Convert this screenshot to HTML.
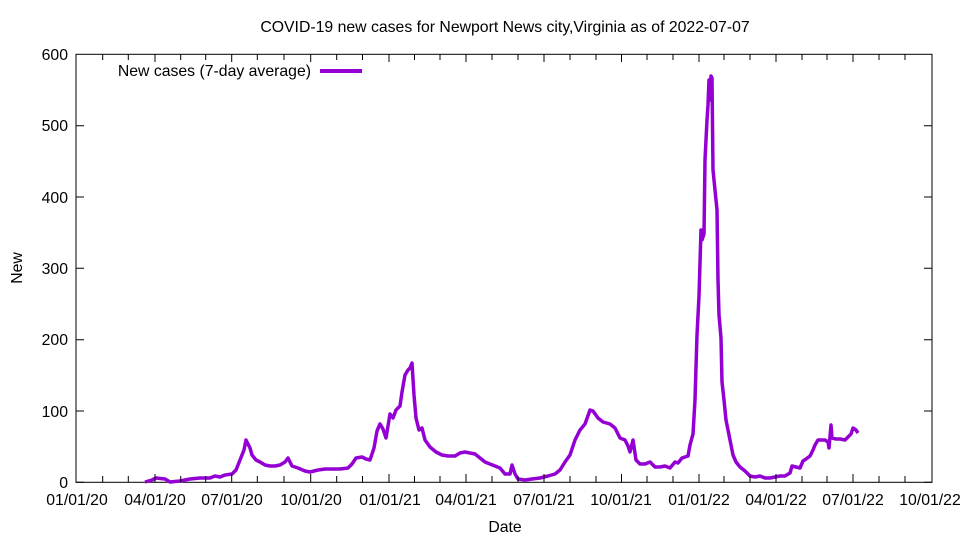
<!DOCTYPE html>
<html><head><meta charset="utf-8"><style>
body{margin:0;background:#fff}
text{font-family:"Liberation Sans",sans-serif;font-size:15.8px;fill:#000}
</style></head><body>
<svg width="960" height="540" xmlns="http://www.w3.org/2000/svg">
<rect width="960" height="540" fill="#fff"/>
<text x="505" y="32" text-anchor="middle">COVID-19 new cases for Newport News city,Virginia as of 2022-07-07</text>
<g stroke="#000" stroke-width="1" fill="none">
<rect x="76" y="54.3" width="856" height="428"/>
<path d="M76 482.3h8M932 482.3h-8M76 411h8M932 411h-8M76 339.7h8M932 339.7h-8M76 268.3h8M932 268.3h-8M76 197h8M932 197h-8M76 125.7h8M932 125.7h-8"/>
</g>
<g text-anchor="end">
<text x="68" y="488">0</text><text x="68" y="417">100</text><text x="68" y="345">200</text><text x="68" y="274">300</text><text x="68" y="203">400</text><text x="68" y="131">500</text><text x="68" y="60">600</text>
</g>
<g text-anchor="middle">
<text x="77" y="505">01/01/20</text><text x="155" y="505">04/01/20</text><text x="232" y="505">07/01/20</text><text x="311" y="505">10/01/20</text>
<text x="390" y="505">01/01/21</text><text x="466" y="505">04/01/21</text><text x="544" y="505">07/01/21</text><text x="621" y="505">10/01/21</text>
<text x="699" y="505">01/01/22</text><text x="776" y="505">04/01/22</text><text x="853" y="505">07/01/22</text><text x="930" y="505">10/01/22</text>
<text x="505" y="532">Date</text>
<text transform="translate(22,268) rotate(-90)">New</text>
</g>
<text x="311" y="76" text-anchor="end">New cases (7-day average)</text>
<line x1="320" y1="71" x2="362" y2="71" stroke="#9400d3" stroke-width="4"/>
<polyline fill="none" stroke="#9400d3" stroke-width="3.5" stroke-linejoin="round" points="145,482 152,480 156,478 165,479 170,482 180,481 190,479 200,478 210,478 215,476 220,477 225,475 232,474 236,470 240,460 244,450 246,440 248,444 250,448 252,455 256,460 260,462 265,465 270,466 275,466 280,465 285,462 288,458 292,466 298,468 305,471 310,472 318,470 325,469 332,469 340,469 348,468 352,464 356,458 362,457 366,459 370,460 374,448 377,431 380,424 383,429 386,438 390,414 393,418 396,410 400,406 402,392 405,375 408,370 410,368 412,363 414,395 416,418 419,430 422,428 425,440 430,447 436,452 442,455 448,456 455,456 460,453 465,452 470,453 475,454 480,458 485,462 490,464 495,466 500,468 505,474 510,474 512,465 515,474 518,479 525,480 532,479 540,478 548,476 555,474 560,470 565,462 570,455 575,440 580,430 585,424 590,410 593,411 598,418 603,422 610,424 615,428 620,438 625,440 628,446 630,452 633,440 636,460 640,464 645,464 650,462 655,467 660,467 665,466 670,468 675,462 678,463 682,458 688,456 690,445 693,434 695,400 697,335 699,296 701,230 702,240 704,234 705,160 707,120 708,105 709,80 710,100 711,76 712,78 713,170 715,190 717,210 718,280 719,315 721,338 722,382 724,400 726,420 728,430 730,440 733,455 736,462 740,467 745,471 750,476 755,477 760,476 765,478 770,478 775,477 780,476 785,476 790,473 792,466 796,467 800,468 803,461 806,459 810,456 813,450 815,445 818,440 822,440 825,440 828,442 829,448 831,425 832,438 836,439 840,439 845,440 848,437 851,434 853,428 856,430 858,433"/>
<g stroke="#000" stroke-width="1">
<path d="M102.7 482v-6M128.3 482v-6M155 482v-8M180.7 482v-6M205.7 482v-6M231.7 482v-8M257.3 482v-6M284 482v-6M310.7 482v-8M336.7 482v-6M362.5 482v-6M389 482v-8M414.5 482v-6M440 482v-6M466 482v-8M492 482v-6M518 482v-6M544 482v-8M570 482v-6M596 482v-6M621.5 482v-8M647 482v-6M673 482v-6M699 482v-8M724 482v-6M750 482v-6M776 482v-8M802 482v-6M827 482v-6M853 482v-8M879 482v-6M905 482v-6
M102.7 54v6M128.3 54v6M155 54v8M180.7 54v6M205.7 54v6M231.7 54v8M257.3 54v6M284 54v6M310.7 54v8M336.7 54v6M362.5 54v6M389 54v8M414.5 54v6M440 54v6M466 54v8M492 54v6M518 54v6M544 54v8M570 54v6M596 54v6M621.5 54v8M647 54v6M673 54v6M699 54v8M724 54v6M750 54v6M776 54v8M802 54v6M827 54v6M853 54v8M879 54v6M905 54v6"/>
</g>
</svg>
</body></html>
